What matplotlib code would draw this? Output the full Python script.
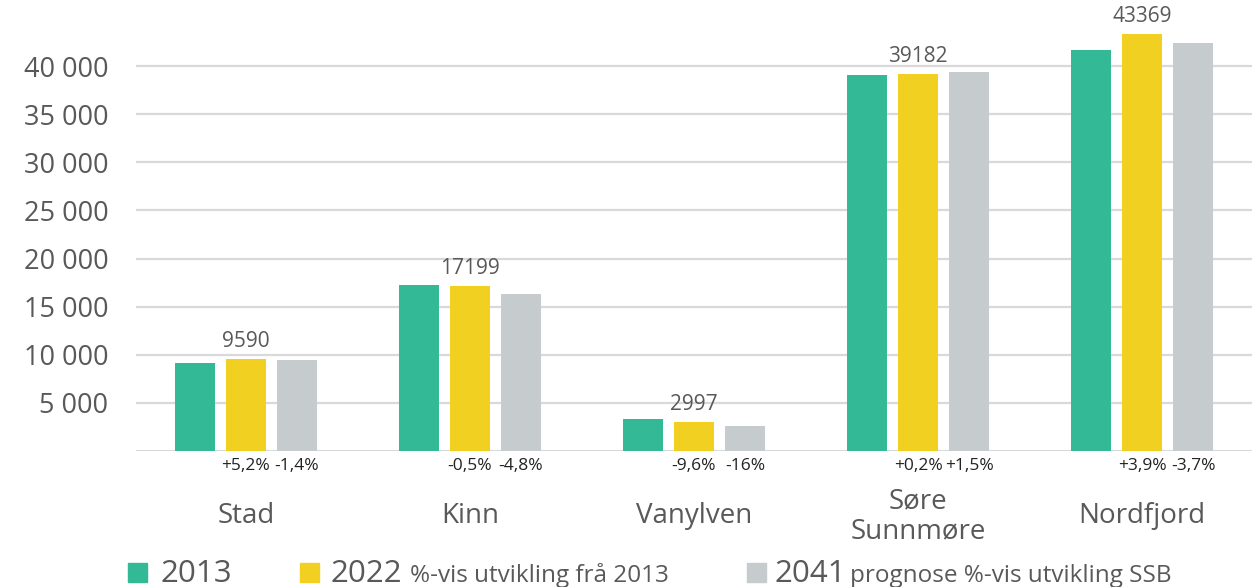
import numpy as np
import matplotlib as mpl
mpl.use('Agg')
import matplotlib.pyplot as plt
from matplotlib.patches import Rectangle

# data
kommunar = ['Stad', 'Kinn', 'Vanylven', 'Søre\nSunnmøre', 'Nordfjord']
v2013 = [9120, 17290, 3320, 39100, 41700]
v2022 = [9590, 17199, 2997, 39182, 43369]
v2041 = [9460, 16300, 2560, 39400, 42400]
pst_2022 = ['+5,2%', '-0,5%', '-9,6%', '+0,2%', '+3,9%']
pst_2041 = ['-1,4%', '-4,8%', '-16%', '+1,5%', '-3,7%']
yticks = [5000, 10000, 15000, 20000, 25000, 30000, 35000, 40000]

c_gronn = '#33b995'
c_gul = '#f2d022'
c_gra = '#c6cbce'
c_tekst = '#595959'

plt.rcParams['font.family'] = ['Open Sans', 'DejaVu Sans']

W, H = 1258, 587
fig = plt.figure(figsize=(W / 100, H / 100), dpi=100)
ax = fig.add_axes([136 / W, 1 - 451 / H, (1252 - 136) / W, 451 / H])

x = np.arange(len(kommunar))
d = 0.228
b = 0.178
ax.bar(x - d, v2013, width=b, color=c_gronn, zorder=3)
ax.bar(x, v2022, width=b, color=c_gul, zorder=3)
ax.bar(x + d, v2041, width=b, color=c_gra, zorder=3)

ax.set_xlim(-0.49, 4.49)
ax.set_ylim(0, 46880)

for s in ax.spines.values():
    s.set_visible(False)
ax.set_yticks(yticks)
ax.set_yticklabels(['{:,}'.format(v).replace(',', ' ') for v in yticks])
ax.yaxis.grid(True, color='#d9d9d9', lw=1.6, zorder=0)
ax.axhline(0, color='#d9d9d9', lw=2.2, zorder=1)
ax.tick_params(axis='y', length=0, pad=20, labelsize=19.5, labelcolor=c_tekst)

ax.set_xticks(x)
ax.set_xticklabels(kommunar, linespacing=1.1)
ax.tick_params(axis='x', length=0, pad=47, labelsize=20, labelcolor=c_tekst)
for lab in ax.get_xticklabels():
    lab.set_verticalalignment('center')

# verdiar over 2022-stolpane
for xi, v in zip(x, v2022):
    ax.annotate(str(v), (xi, v), xytext=(0, 5), textcoords='offset points',
                ha='center', va='bottom', fontsize=15, color=c_tekst)

# prosentendringar under
for xi, p1, p2 in zip(x, pst_2022, pst_2041):
    ax.annotate(p1, (xi, 0), xytext=(0, -11), textcoords='offset points',
                ha='center', va='center', fontsize=12.5, color='#222222')
    ax.annotate(p2, (xi + d, 0), xytext=(0, -11), textcoords='offset points',
                ha='center', va='center', fontsize=12.5, color='#222222')

# forklaring
def fx(px):
    return px / W

def fy(py):
    return 1 - py / H

for px, col in [(128, c_gronn), (300, c_gul), (747, c_gra)]:
    fig.add_artist(Rectangle((fx(px), fy(582)), 19 / W, 19 / H, color=col,
                             transform=fig.transFigure))

yb = fy(582)
fig.text(fx(160), yb, '2013', fontsize=22.5, color=c_tekst, va='baseline')
fig.text(fx(330), yb, '2022', fontsize=22.5, color=c_tekst, va='baseline')
fig.text(fx(410), yb, '%-vis utvikling frå 2013', fontsize=17.5, color=c_tekst,
         va='baseline')
fig.text(fx(775), yb, '2041', fontsize=22.5, color=c_tekst, va='baseline')
fig.text(fx(850), yb, 'prognose %-vis utvikling SSB', fontsize=17.5, color=c_tekst,
         va='baseline')

fig.savefig('out.png', dpi=100)
plt.close()
